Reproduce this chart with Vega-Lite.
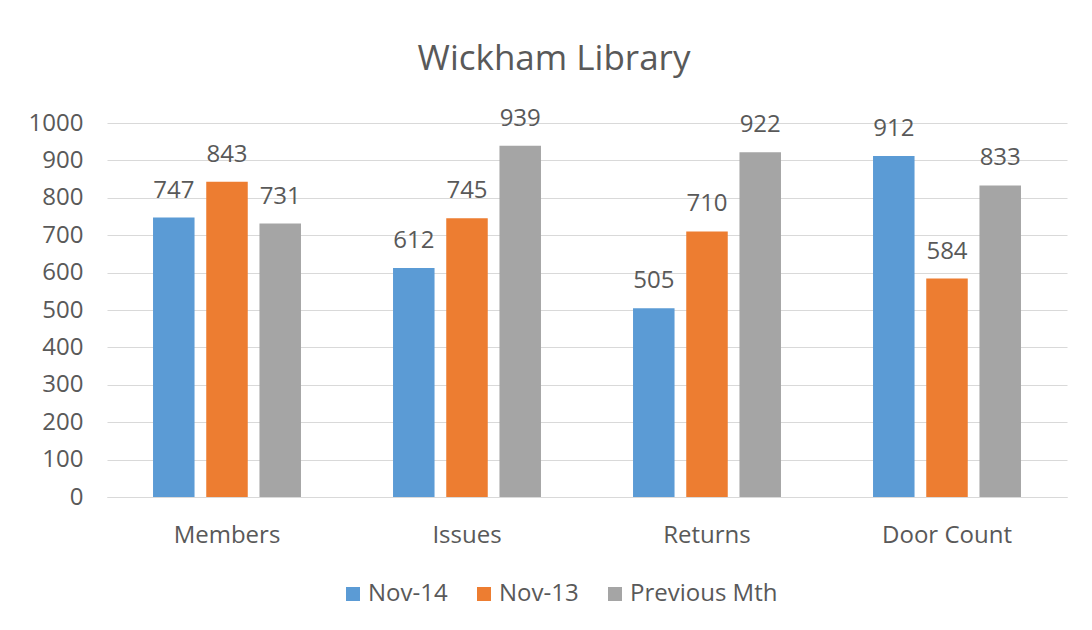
{
  "$schema": "https://vega.github.io/schema/vega-lite/v6.json",
  "autosize": {"type": "none"},
  "width": 960,
  "height": 374,
  "padding": {"left": 107, "top": 123, "right": 25, "bottom": 133},
  "background": "white",
  "title": {
    "text": "Wickham Library",
    "anchor": "middle",
    "dx": -33,
    "offset": 2,
    "baseline": "alphabetic",
    "font": "Open Sans",
    "fontSize": 35,
    "fontWeight": "normal",
    "color": "#595959"
  },
  "data": {
    "values": [
      {"category": "Members", "series": "Nov-14", "value": 747},
      {"category": "Members", "series": "Nov-13", "value": 843},
      {"category": "Members", "series": "Previous Mth", "value": 731},
      {"category": "Issues", "series": "Nov-14", "value": 612},
      {"category": "Issues", "series": "Nov-13", "value": 745},
      {"category": "Issues", "series": "Previous Mth", "value": 939},
      {"category": "Returns", "series": "Nov-14", "value": 505},
      {"category": "Returns", "series": "Nov-13", "value": 710},
      {"category": "Returns", "series": "Previous Mth", "value": 922},
      {"category": "Door Count", "series": "Nov-14", "value": 912},
      {"category": "Door Count", "series": "Nov-13", "value": 584},
      {"category": "Door Count", "series": "Previous Mth", "value": 833}
    ]
  },
  "encoding": {
    "x": {
      "field": "category",
      "type": "nominal",
      "sort": ["Members", "Issues", "Returns", "Door Count"],
      "scale": {"paddingInner": 0, "paddingOuter": 0},
      "axis": {
        "title": null,
        "labelAngle": 0,
        "ticks": false,
        "tickSize": 0,
        "domain": true,
        "domainColor": "#d9d9d9",
        "domainWidth": 1,
        "labelBaseline": "alphabetic",
        "labelPadding": 45,
        "labelFont": "Open Sans",
        "labelFontSize": 24,
        "labelColor": "#595959"
      }
    },
    "xOffset": {
      "field": "series",
      "type": "nominal",
      "sort": ["Nov-14", "Nov-13", "Previous Mth"],
      "scale": {"paddingInner": 0.22, "paddingOuter": 0.865}
    },
    "y": {
      "field": "value",
      "type": "quantitative",
      "scale": {"domain": [0, 1000], "nice": false},
      "axis": {
        "title": null,
        "values": [0, 100, 200, 300, 400, 500, 600, 700, 800, 900, 1000],
        "format": "d",
        "domain": false,
        "ticks": false,
        "tickSize": 0,
        "labelPadding": 24,
        "labelFont": "Open Sans",
        "labelFontSize": 24,
        "labelColor": "#595959",
        "grid": true,
        "gridColor": "#d9d9d9",
        "gridWidth": 1
      }
    }
  },
  "layer": [
    {
      "mark": {"type": "bar"},
      "encoding": {
        "color": {
          "field": "series",
          "type": "nominal",
          "sort": ["Nov-14", "Nov-13", "Previous Mth"],
          "scale": {
            "domain": ["Nov-14", "Nov-13", "Previous Mth"],
            "range": ["#5b9bd5", "#ed7d31", "#a5a5a5"]
          },
          "legend": {
            "title": null,
            "orient": "none",
            "direction": "horizontal",
            "legendX": 234,
            "legendY": 459,
            "symbolType": "square",
            "symbolSize": 196,
            "symbolStrokeWidth": 0,
            "labelFont": "Open Sans",
            "labelFontSize": 24,
            "labelColor": "#595959",
            "labelOffset": 3,
            "columnPadding": 24
          }
        }
      }
    },
    {
      "mark": {
        "type": "text",
        "baseline": "alphabetic",
        "dy": -20,
        "font": "Open Sans",
        "fontSize": 24,
        "color": "#595959"
      },
      "encoding": {
        "text": {"field": "value", "type": "quantitative"}
      }
    }
  ],
  "config": {
    "view": {"stroke": null}
  }
}
